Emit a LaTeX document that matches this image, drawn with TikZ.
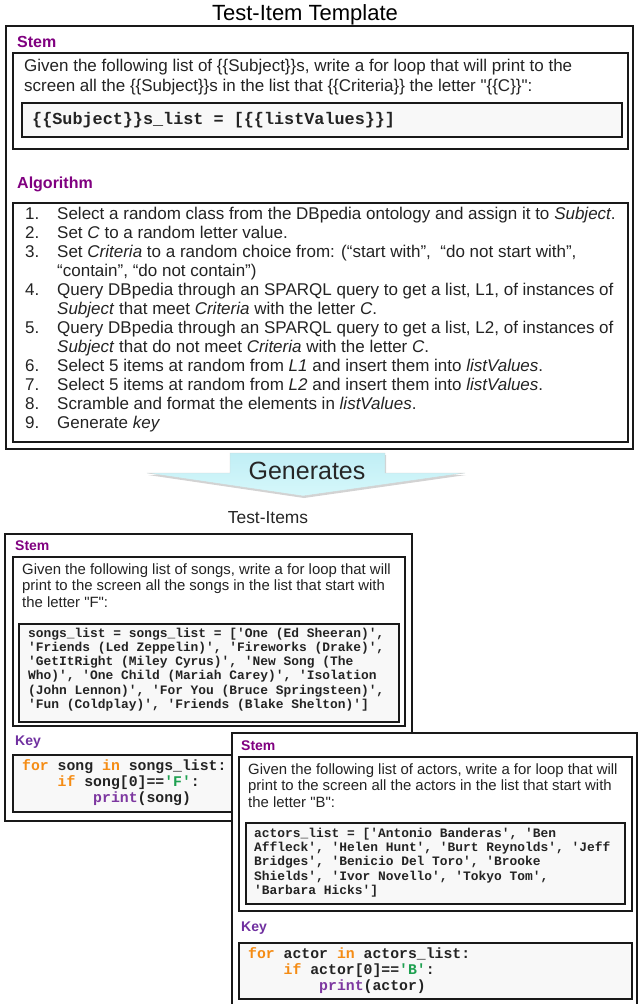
\documentclass[tikz,border=0pt]{standalone}
\usepackage{fontspec}
\setmainfont{Liberation Sans}[Ligatures=TeXOff]
\setmonofont{Liberation Mono}
\usetikzlibrary{shadows}
\definecolor{lblpurple}{RGB}{128,0,128}
\definecolor{keyviolet}{RGB}{112,48,160}
\definecolor{kworange}{RGB}{245,140,20}
\definecolor{strgreen}{RGB}{30,160,80}
\definecolor{fnpurple}{RGB}{125,55,160}
\definecolor{codegray}{RGB}{248,248,248}
\definecolor{boxline}{RGB}{25,25,25}
\definecolor{inkgray}{RGB}{35,35,35}
\definecolor{arrowtop}{RGB}{192,238,245}
\definecolor{arrowbot}{RGB}{214,248,251}
\newcommand\kwd[1]{\textcolor{kworange}{#1}}
\newcommand\strg[1]{\textcolor{strgreen}{#1}}
\newcommand\fnc[1]{\textcolor{fnpurple}{#1}}
\newcommand\num[1]{\makebox[32pt][l]{#1}}
\begin{document}
\begin{tikzpicture}[x=1pt,y=-1pt,
  outerbox/.style={draw=boxline,line width=1.6pt,fill=white},
  innerbox/.style={draw=boxline,line width=1.6pt,fill=white},
  codebox/.style={draw=boxline,line width=1.9pt,fill=codegray},
  lbl/.style={anchor=west,inner sep=0pt,text=lblpurple,font=\bfseries\fontsize{16}{19}\selectfont},
  lblsmall/.style={anchor=west,inner sep=0pt,text=lblpurple,font=\bfseries\fontsize{14}{17}\selectfont},
  keylbl/.style={anchor=west,inner sep=0pt,text=keyviolet,font=\bfseries\fontsize{14}{17}\selectfont},
  bigtext/.style={anchor=west,inner sep=0pt,align=left,text=inkgray,font=\fontsize{17}{20}\selectfont},
  algtext/.style={anchor=west,inner sep=0pt,align=left,text=inkgray,font=\fontsize{17}{19}\selectfont},
  smalltext/.style={anchor=west,inner sep=0pt,align=left,text=inkgray,font=\fontsize{14.9}{16.5}\selectfont},
  bigcode/.style={anchor=west,inner sep=0pt,align=left,text=inkgray,font=\ttfamily\bfseries\fontsize{16.8}{20}\selectfont},
  listcode/.style={anchor=west,inner sep=0pt,align=left,text=inkgray,font=\ttfamily\bfseries\fontsize{12.9}{14.3}\selectfont},
  keycode/.style={anchor=west,inner sep=0pt,align=left,text=inkgray,font=\ttfamily\bfseries\fontsize{14.8}{16}\selectfont},
  arrowshape/.style={top color=arrowtop,bottom color=arrowbot,draw=gray!35,line width=0.4pt,
     drop shadow={opacity=0.35,shadow xshift=1pt,shadow yshift=-2pt}}]
\useasboundingbox (0,0) rectangle (638,1004);
\clip (0,0) rectangle (638,1004);

% ---------- Template ----------
\node[font=\fontsize{22}{26}\selectfont,text=black] (title) at (305,15) {Test-Item Template};
\path[outerbox] (6,26) rectangle (633,449);
\node[lbl] (stemlbl) at (17,42) {Stem};
\path[innerbox] (13,53) rectangle (628,149);
\node[bigtext] (stemtext) at (24,77) {Given the following list of \{\{Subject\}\}s, write a for loop that will print to the\\
screen all the \{\{Subject\}\}s in the list that \{\{Criteria\}\} the letter "\{\{C\}\}":};
\path[codebox] (22,103) rectangle (622,137);
\node[bigcode] (stemcode) at (32,120) {\{\{Subject\}\}s\_list = [\{\{listValues\}\}]};

\node[lbl] (alglbl) at (17,184) {Algorithm};
\path[innerbox] (13,203) rectangle (628,442);
\node[algtext] (algtext) at (25,319.5) {%
\num{1.}Select a random class from the DBpedia ontology and assign it to \textit{Subject}.\\
\num{2.}Set \textit{C} to a random letter value.\\
\num{3.}Set \textit{Criteria} to a random choice from: (“start with”,\ \ “do not start with”,\\
\hspace*{32pt}“contain”, “do not contain”)\\
\num{4.}Query DBpedia through an SPARQL query to get a list, L1, of instances of\\
\hspace*{32pt}\textit{Subject} that meet \textit{Criteria} with the letter \textit{C}.\\
\num{5.}Query DBpedia through an SPARQL query to get a list, L2, of instances of\\
\hspace*{32pt}\textit{Subject} that do not meet \textit{Criteria} with the letter \textit{C}.\\
\num{6.}Select 5 items at random from \textit{L1} and insert them into \textit{listValues}.\\
\num{7.}Select 5 items at random from \textit{L2} and insert them into \textit{listValues}.\\
\num{8.}Scramble and format the elements in \textit{listValues}.\\
\num{9.}Generate \textit{key}};

% ---------- Generates arrow ----------
\path[arrowshape] (230,453) -- (385,453) -- (385,473) -- (465,473) -- (303,496) -- (147,473) -- (230,473) -- cycle;
\node[font=\fontsize{25}{28}\selectfont,text=black!85] (gen) at (307,471) {Generates};
\node[font=\fontsize{17.4}{20}\selectfont,text=black!85] (items) at (268,518) {Test-Items};

% ---------- Test item 1 ----------
\path[outerbox] (5,534) rectangle (412,821);
\node[lblsmall] (s1lbl) at (15,546) {Stem};
\path[innerbox] (13,557) rectangle (405,726);
\node[smalltext] (s1text) at (22,585.5) {Given the following list of songs, write a for loop that will\\
print to the screen all the songs in the list that start with\\
the letter "F":};
\path[codebox] (19,624) rectangle (399,722);
\node[listcode] (s1code) at (28,669.5) {songs\_list = songs\_list = ['One (Ed Sheeran)',\\
'Friends (Led Zeppelin)', 'Fireworks (Drake)',\\
'GetItRight (Miley Cyrus)', 'New Song (The\\
Who)', 'One Child (Mariah Carey)', 'Isolation\\
(John Lennon)', 'For You (Bruce Springsteen)',\\
'Fun (Coldplay)', 'Friends (Blake Shelton)']};
\node[keylbl] (k1lbl) at (15,742) {Key};
\path[codebox] (13,755) rectangle (320,812);
\node[keycode] (k1code) at (22,783) {\kwd{for} song \kwd{in} songs\_list:\\
\hspace*{2.4em}\kwd{if} song[0]==\strg{'F'}:\\
\hspace*{4.8em}\fnc{print}(song)};

% ---------- Test item 2 ----------
\path[outerbox] (232,733) rectangle (637,1020);
\node[lblsmall] (s2lbl) at (241,746) {Stem};
\path[innerbox] (239,757) rectangle (632,911);
\node[smalltext] (s2text) at (248,785.5) {Given the following list of actors, write a for loop that will\\
print to the screen all the actors in the list that start with\\
the letter "B":};
\path[codebox] (246,823) rectangle (625,904);
\node[listcode] (s2code) at (254,862.5) {actors\_list = ['Antonio Banderas', 'Ben\\
Affleck', 'Helen Hunt', 'Burt Reynolds', 'Jeff\\
Bridges', 'Benicio Del Toro', 'Brooke\\
Shields', 'Ivor Novello', 'Tokyo Tom',\\
'Barbara Hicks']};
\node[keylbl] (k2lbl) at (241,928) {Key};
\path[codebox] (239,943) rectangle (632,999);
\node[keycode] (k2code) at (248,971) {\kwd{for} actor \kwd{in} actors\_list:\\
\hspace*{2.4em}\kwd{if} actor[0]==\strg{'B'}:\\
\hspace*{4.8em}\fnc{print}(actor)};
\end{tikzpicture}
\end{document}
